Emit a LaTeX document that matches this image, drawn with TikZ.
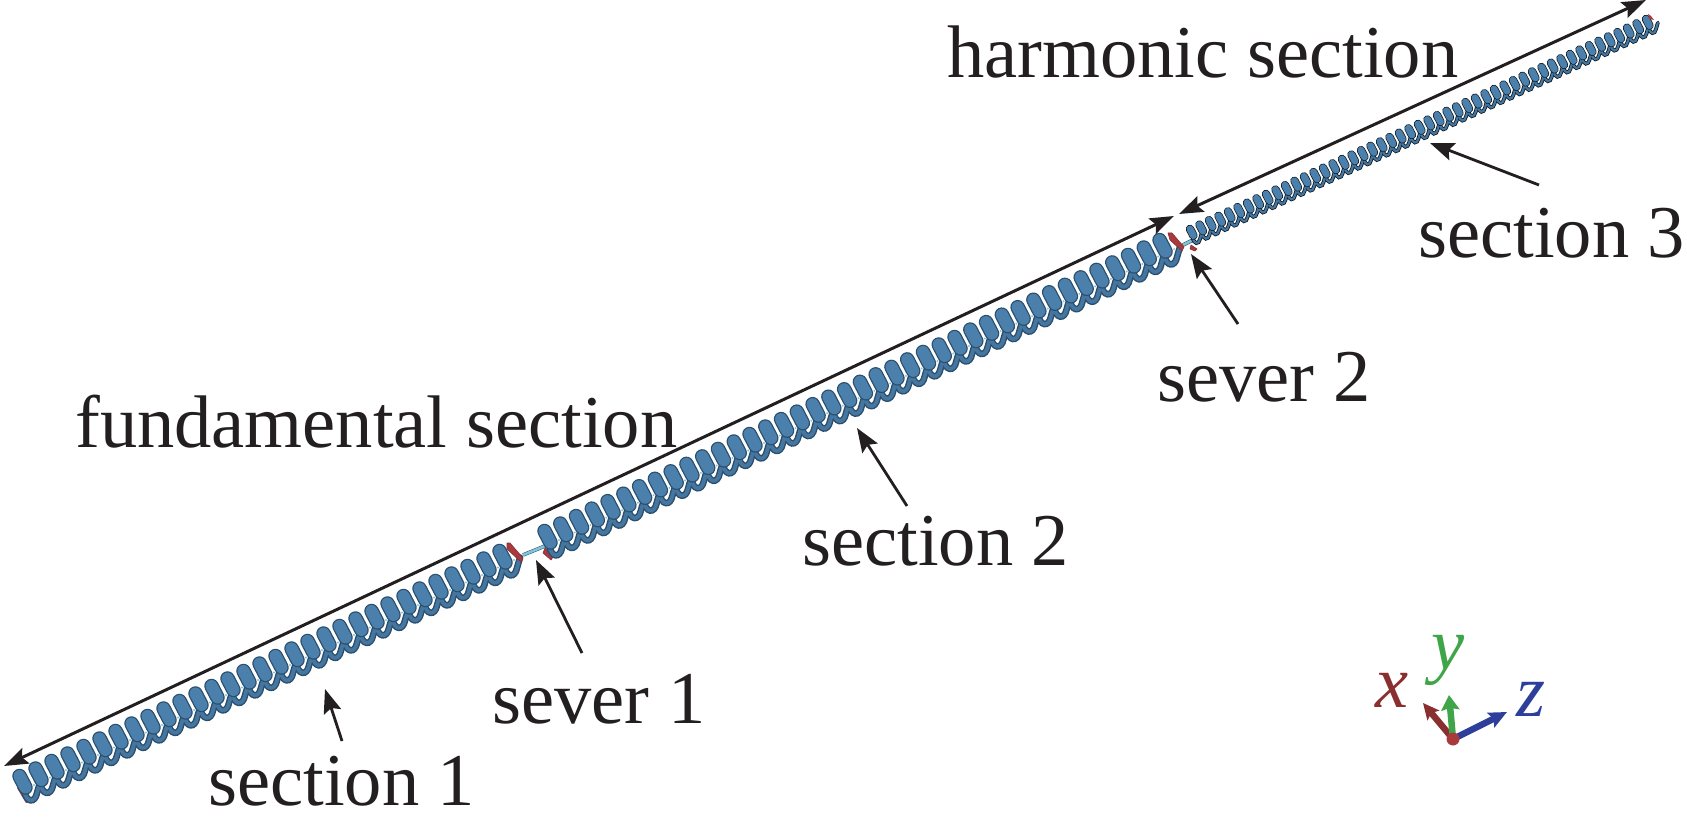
\documentclass[tikz,border=0pt]{standalone}
\usepackage{fontspec}
\setmainfont{Liberation Serif}
\usetikzlibrary{arrows.meta}
\definecolor{ink}{HTML}{231F20}
\definecolor{tubeblue}{HTML}{4A80AB}
\definecolor{tubedark}{HTML}{2B4E6C}
\definecolor{tubemid}{HTML}{4476A0}
\definecolor{spot}{HTML}{7FC4D8}
\definecolor{plate}{HTML}{A83A3E}
\definecolor{axisx}{HTML}{8A2F2F}
\definecolor{axisy}{HTML}{3FA548}
\definecolor{axisz}{HTML}{2D3F9A}
\tikzset{
  label text/.style={font=\fontsize{74.5}{80}\selectfont, text=ink, inner sep=0pt, anchor=base west},
  axis text/.style={font=\fontsize{74.5}{80}\selectfont\itshape, inner sep=0pt, anchor=base west},
  span arrow/.style={draw=ink, line width=3pt, {Stealth[length=24pt,width=17pt,inset=4pt]}-{Stealth[length=24pt,width=17pt,inset=4pt]}},
  pointer/.style={draw=ink, line width=2.8pt, -{Stealth[length=24pt,width=18pt,inset=4pt]}},
  sever plate/.style={fill=plate, draw=plate!80!black, line width=.6pt, line join=round},
  sever link/.style={draw=spot, line width=2.6pt},
  axis arrow/.style={line width=6.5pt}
}
% #1,#2 start; #3,#4 pitch; #5 gaps; #6 scale; #7 outline colour
\newcommand\tubesection[7]{%
  \foreach \i in {0,...,#5}{%
    \begin{scope}[shift={({#1+\i*#3},{#2+\i*#4})},scale=#6]
      \draw[draw=#7,line width={6.6*#6 pt},line cap=round] (1,7) .. controls (3,20) and (12,20.5) .. (14,10) .. controls (14.5,7) and (16,4) .. (17,-0.5);
    \end{scope}}%
  \foreach \i in {0,...,#5}{%
    \begin{scope}[shift={({#1+\i*#3},{#2+\i*#4})},scale=#6]
      \draw[draw=tubemid,line width={3.8*#6 pt},line cap=round] (1,7) .. controls (3,20) and (12,20.5) .. (14,10) .. controls (14.5,7) and (16,4) .. (17,-0.5);
    \end{scope}}%
  \foreach \i in {0,...,#5}{%
    \begin{scope}[shift={({#1+\i*#3},{#2+\i*#4})},scale=#6]
      \draw[draw=#7,line width={14.5*#6 pt},line cap=round] (-3.5,-7) -- (2.5,4.5);
      \draw[draw=tubeblue,line width={12*#6 pt},line cap=round] (-3.5,-7) -- (2.5,4.5);
      \fill[spot] (11,2) circle ({1.1*#6});
    \end{scope}}%
}
\begin{document}
\begin{tikzpicture}[x=1pt,y=-1pt]
\useasboundingbox (0,0) rectangle (1687,821);
% start plate of section 1
\fill[plate] (17,788) -- (21,788) -- (30,802) -- (26,803) -- cycle;
% sever links and back plates
\draw[draw=tubedark,line width=3.6pt] (523,555) -- (545,546);
\draw[sever link] (523,555) -- (545,546);
\draw[draw=tubedark,line width=3.6pt] (1183,245) -- (1193,240);
\draw[sever link] (1183,245) -- (1193,240);
\fill[sever plate] (545,548) -- (553,557) -- (551,560) -- (543,553) -- cycle;
\fill[sever plate] (1191,245) -- (1197,249) -- (1195,251) -- (1190,249) -- cycle;
% tube sections
\tubesection{23}{783}{16}{-7.5}{30}{1}{tubedark}
\tubesection{548}{538}{15.77}{-7.46}{39}{1}{tubedark}
\tubesection{1192}{233}{9.5}{-4.375}{48}{.58}{black!70!tubedark}
% front plates
\fill[sever plate] (507,543) -- (510,543) -- (523,558) -- (521,562) -- (507,549) -- cycle;
\fill[sever plate] (1168,233) -- (1172,233) -- (1184,247) -- (1182,251) -- (1170,240) -- cycle;
\fill[plate] (1648,14) -- (1651,16) -- (1654,20) -- (1649,19) -- cycle;
% span arrows
\coordinate (fundL) at (4,766);
\coordinate (fundR) at (1174,216);
\coordinate (harmL) at (1179,214);
\coordinate (harmR) at (1646,0);
\draw[span arrow] (fundL) -- (fundR);
\draw[span arrow] (harmL) -- (harmR);
% labels
\node[label text] (lharm) at (947,78) {harmonic section};
\node[label text] (lfund) at (75,447) {fundamental section};
\node[label text] (ls3) at (1418,258) {section 3};
\node[label text] (lsv2) at (1157,401) {sever 2};
\node[label text] (ls2) at (802,565) {section 2};
\node[label text] (lsv1) at (492,723) {sever 1};
\node[label text] (ls1) at (208,805) {section 1};
% pointers
\coordinate (ps1a) at (342,741); \coordinate (ps1b) at (325,689);
\coordinate (psv1a) at (582,653); \coordinate (psv1b) at (536,560);
\coordinate (ps2a) at (907,506); \coordinate (ps2b) at (857,428);
\coordinate (psv2a) at (1238,324); \coordinate (psv2b) at (1191,254);
\coordinate (ps3a) at (1539,185); \coordinate (ps3b) at (1430,143);
\draw[pointer] (ps1a) -- (ps1b);
\draw[pointer] (psv1a) -- (psv1b);
\draw[pointer] (ps2a) -- (ps2b);
\draw[pointer] (psv2a) -- (psv2b);
\draw[pointer] (ps3a) -- (ps3b);
% axes
\coordinate (orig) at (1453,739);
\coordinate (xend) at (1423,703);
\coordinate (yend) at (1449,695);
\coordinate (zend) at (1507,712);
\draw[axis arrow,draw=axisx,-{Stealth[length=16pt,width=15pt,inset=3pt,color=axisx]}] (orig) -- (xend);
\draw[axis arrow,draw=axisz,-{Stealth[length=18pt,width=16pt,inset=3pt,color=axisz]}] (orig) -- (zend);
\draw[axis arrow,draw=axisy,-{Stealth[length=15pt,width=18pt,inset=2pt,color=axisy]}] (orig) -- (yend);
\fill[plate] (orig) circle (6.5);
\node[axis text,text=axisx] (lx) at (1375,707) {x};
\node[axis text,text=axisy] (ly) at (1431,669) {y};
\node[axis text,text=axisz] (lz) at (1516,716) {z};
\end{tikzpicture}
\end{document}
